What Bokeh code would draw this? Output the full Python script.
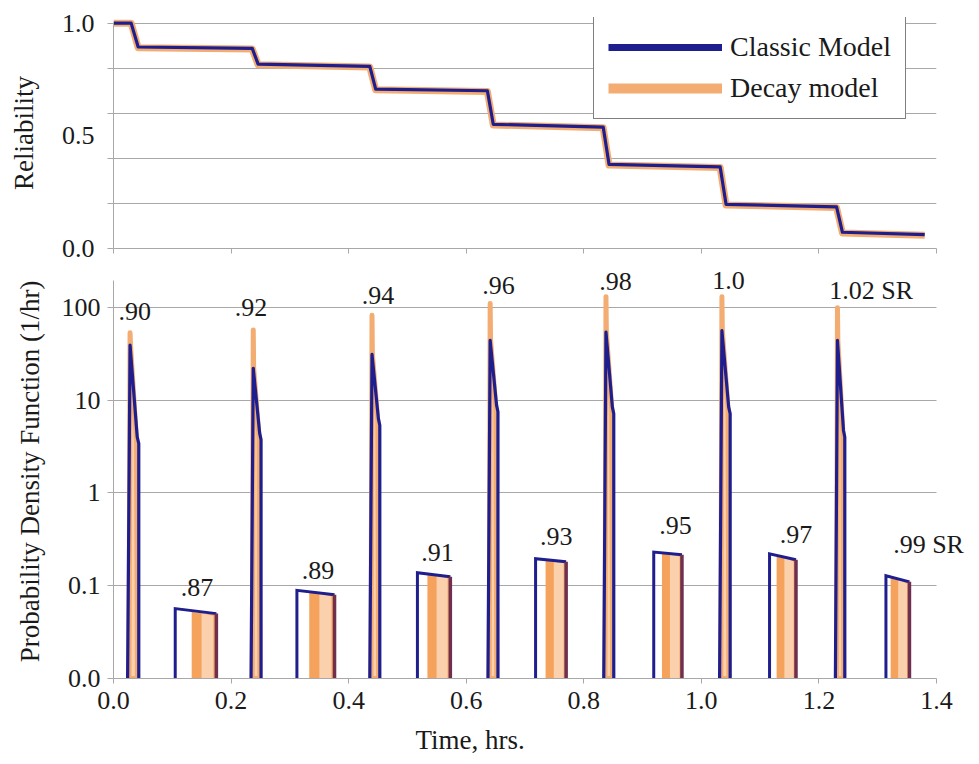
from bokeh.plotting import figure
from bokeh.models import (ColumnDataSource, FixedTicker, Label, Legend, LegendItem,
                          Title, Range1d, PrintfTickFormatter)
from bokeh.layouts import column
from bokeh.embed import file_html
from bokeh.resources import INLINE

FONT = "Liberation Serif"
BLUE = "#1e1e8e"
ORANGE = "#f3ad72"
BAR_ORANGE = "#f5a35c"
PEACH = "#fbd0ac"
EDGE = "#6f3050"
GRID = "#a8a8a8"
TXT = "#1a1a1a"

# ---------------- data: reliability (top panel) ----------------
rel_time = [0.0, 0.030, 0.042, 0.236, 0.246, 0.436, 0.446, 0.636, 0.646,
            0.833, 0.843, 1.032, 1.042, 1.230, 1.240, 1.380]
rel_classic = [1.0, 1.0, 0.894, 0.888, 0.818, 0.808, 0.707, 0.700, 0.551,
               0.539, 0.373, 0.362, 0.196, 0.185, 0.072, 0.062]
rel_decay = [1.0, 1.0, 0.891, 0.885, 0.815, 0.805, 0.704, 0.697, 0.548,
             0.536, 0.370, 0.359, 0.193, 0.182, 0.069, 0.059]

x_ticks = [0.0, 0.2, 0.4, 0.6, 0.8, 1.0, 1.2, 1.4]
rel_labels = [0.0, 0.5, 1.0]
rel_grid = [0.0, 0.2, 0.4, 0.6, 0.8, 1.0]

# ---------------- data: PDF (bottom panel) ----------------
pdf_ticks = [0.01, 0.1, 1, 10, 100]
pdf_tick_text = ["0.0", "0.1", "1", "10", "100"]
PDF_MIN, PDF_MAX = 0.01, 194
BASE = 0.01

# tall spikes (SR >= .90)
spike_start = [0.024, 0.234, 0.436, 0.637, 0.834, 1.031, 1.228]
spike_end = [0.043, 0.251, 0.453, 0.654, 0.851, 1.049, 1.244]
classic_peak = [39, 22, 31, 44, 54, 56, 44]
classic_mid = [4.0, 4.4, 6.3, 8.8, 8.4, 8.4, 4.7]
decay_peak = [53, 57, 82, 110, 130, 130, 99]
decay_mid = [3.6, 4.0, 6.0, 8.0, 8.0, 8.0, 4.4]
spike_lbl = [".90", ".92", ".94", ".96", ".98", "1.0", "1.02 SR"]
spike_lbl_x = [0.036, 0.234, 0.450, 0.655, 0.854, 1.046, 1.289]
spike_lbl_y = [91, 100, 133, 170, 189, 195, 151]

# low plateaus (SR <= .99)
bar_start = [0.105, 0.312, 0.517, 0.718, 0.919, 1.116, 1.314]
bar_end = [0.175, 0.376, 0.573, 0.770, 0.967, 1.161, 1.354]
decay_start = [0.133, 0.333, 0.534, 0.735, 0.933, 1.128, 1.322]
classic_top_start = [0.0566, 0.089, 0.138, 0.195, 0.230, 0.220, 0.128]
classic_top_end = [0.050, 0.080, 0.125, 0.181, 0.215, 0.190, 0.110]
decay_top_start = [0.052, 0.085, 0.131, 0.187, 0.223, 0.206, 0.120]
decay_top_end = [0.049, 0.079, 0.124, 0.180, 0.213, 0.188, 0.108]
bar_lbl = [".87", ".89", ".91", ".93", ".95", ".97", ".99  SR"]
bar_lbl_x = [0.142, 0.348, 0.551, 0.753, 0.956, 1.161, 1.392]
bar_lbl_y = [0.095, 0.145, 0.226, 0.34, 0.44, 0.355, 0.275]


def style_axis(ax, size="26px"):
    ax.axis_line_color = GRID
    ax.axis_line_width = 1
    ax.major_label_text_font = FONT
    ax.major_label_text_font_size = size
    ax.major_label_text_color = TXT
    ax.axis_label_text_font = FONT
    ax.axis_label_text_font_size = "27px"
    ax.axis_label_text_font_style = "normal"
    ax.axis_label_text_color = TXT
    ax.major_tick_line_color = GRID
    ax.minor_tick_line_color = GRID
    ax.major_tick_in = 0
    ax.minor_tick_in = 0
    ax.minor_tick_out = 0


# ================= TOP PANEL =================
top = figure(frame_width=823, frame_height=231,
             x_range=Range1d(0, 1.4), y_range=Range1d(0, 1.025),
             output_backend="svg", toolbar_location=None,
             min_border_left=113, min_border_right=43,
             min_border_top=17, min_border_bottom=16)
top.outline_line_color = None
top.xgrid.visible = False
top.ygrid.ticker = FixedTicker(ticks=rel_grid)
top.ygrid.grid_line_color = GRID

style_axis(top.xaxis[0])
top.xaxis.ticker = FixedTicker(ticks=x_ticks)
top.xaxis.major_tick_out = 5
top.xaxis.major_label_text_font_size = "2px"
top.xaxis.major_label_text_color = None
top.xaxis.major_label_standoff = 0

style_axis(top.yaxis[0])
top.yaxis.ticker = FixedTicker(ticks=rel_labels, minor_ticks=rel_grid)
top.yaxis.bounds = (0, 1)
top.yaxis.formatter = PrintfTickFormatter(format="%.1f")
top.yaxis.major_tick_out = 0
top.yaxis.minor_tick_out = 6
top.yaxis.major_label_standoff = 13
top.yaxis.axis_label = "Reliability"
top.yaxis.axis_label_standoff = 20

rsrc = ColumnDataSource(dict(t=rel_time, c=rel_classic, d=rel_decay))
top.line("t", "d", source=rsrc, line_color=ORANGE, line_width=7, line_join="round")
top.line("t", "c", source=rsrc, line_color=BLUE, line_width=3.2, line_join="round")

# hidden renderers that only give the legend its thicker sample strokes
leg_c = top.line("t", "c", source=rsrc, line_color=BLUE, line_width=7, visible=False)
leg_d = top.line("t", "d", source=rsrc, line_color=ORANGE, line_width=10, visible=False)
legend = Legend(items=[LegendItem(label="Classic Model", renderers=[leg_c]),
                       LegendItem(label="Decay model", renderers=[leg_d])],
                location=(480, 129), orientation="vertical",
                label_text_font=FONT, label_text_font_size="28px", label_text_color=TXT,
                glyph_width=114, glyph_height=28, label_height=28, label_width=160,
                label_standoff=8, spacing=9, padding=14, margin=0,
                border_line_color="black", border_line_width=1,
                background_fill_color="white", background_fill_alpha=1,
                inactive_fill_alpha=0)
top.add_layout(legend)

# ================= BOTTOM PANEL =================
# The frame is a little taller / wider than the axes (axis & grid bounds stop at
# the real data limits) so that value labels above / right of it are not clipped.
bot = figure(frame_width=862, frame_height=414,
             x_range=Range1d(0, 1.4 * 862 / 823), y_range=Range1d(PDF_MIN, 288.6),
             y_axis_type="log",
             output_backend="svg", toolbar_location=None,
             min_border_left=113, min_border_right=4,
             min_border_top=0, min_border_bottom=80)
bot.outline_line_color = None
bot.xgrid.visible = False
bot.ygrid.ticker = FixedTicker(ticks=pdf_ticks[1:])
bot.ygrid.grid_line_color = GRID
bot.ygrid.minor_grid_line_color = None
bot.ygrid.cross_bounds = (0, 1.4)

style_axis(bot.xaxis[0])
bot.xaxis.ticker = FixedTicker(ticks=x_ticks)
bot.xaxis.bounds = (0, 1.4)
bot.xaxis.formatter = PrintfTickFormatter(format="%.1f")
bot.xaxis.major_tick_out = 5
bot.xaxis.major_label_standoff = 8

style_axis(bot.yaxis[0])
bot.yaxis.ticker = FixedTicker(ticks=pdf_ticks)
bot.yaxis.bounds = (PDF_MIN, PDF_MAX)
bot.yaxis.major_label_overrides = {t: s for t, s in zip(pdf_ticks, pdf_tick_text)}
bot.yaxis.major_tick_out = 6
bot.yaxis.major_label_standoff = 7
bot.yaxis.axis_label = "Probability Density Function (1/hr)"
bot.yaxis.axis_label_standoff = 14

# spikes
o_xs, o_ys, b_xs, b_ys = [], [], [], []
for s, e, cp, cm, dp, dm in zip(spike_start, spike_end, classic_peak, classic_mid,
                                decay_peak, decay_mid):
    w = e - s
    o_xs.append([s + 0.12 * w, s + 0.22 * w, s + 0.26 * w, e - 0.2 * w, e - 0.12 * w])
    o_ys.append([BASE, dp, cp, dm, BASE])
    b_xs.append([s, s + 0.22 * w, e - 0.14 * w, e, e])
    b_ys.append([BASE, cp, cm, cm * 0.85, BASE])

bot.patches(o_xs, o_ys, fill_color=PEACH, line_color=ORANGE, line_width=5,
            line_join="round", line_cap="round")
bot.multi_line(b_xs, b_ys, line_color=BLUE, line_width=3.2, line_join="round")

# plateaus
po_xs, po_ys, ps_xs, ps_ys, bl_xs, bl_ys, ed_xs, ed_ys = [], [], [], [], [], [], [], []
for s, e, ds, cts, cte, dts, dte in zip(bar_start, bar_end, decay_start,
                                        classic_top_start, classic_top_end,
                                        decay_top_start, decay_top_end):
    dw = e - ds
    po_xs.append([ds, ds, e, e])
    po_ys.append([BASE, dts, dte, BASE])
    m0, m1 = ds + 0.4 * dw, e - 0.12 * dw
    ps_xs.append([m0, m0, m1, m1])
    ps_ys.append([BASE, dts * 0.97, dte * 0.97, BASE])
    bl_xs.append([s, s, e])
    bl_ys.append([BASE, cts, cte])
    ed_xs.append([e, e])
    ed_ys.append([cte, BASE])

bot.patches(po_xs, po_ys, fill_color=BAR_ORANGE, line_color=None)
bot.patches(ps_xs, ps_ys, fill_color=PEACH, line_color=None)
bot.multi_line(bl_xs, bl_ys, line_color=BLUE, line_width=3, line_join="miter")
bot.multi_line(ed_xs, ed_ys, line_color=EDGE, line_width=3.5)

# value labels
for lx, ly, lt in ((spike_lbl_x, spike_lbl_y, spike_lbl), (bar_lbl_x, bar_lbl_y, bar_lbl)):
    for xv, yv, tv in zip(lx, ly, lt):
        bot.add_layout(Label(x=xv, y=yv, text=tv, text_font=FONT,
                             text_font_size="26px", text_color=TXT,
                             text_align="center", text_baseline="middle"))

bot.add_layout(Title(text="Time, hrs.", align="left", offset=302,
                     text_font=FONT, text_font_size="27px",
                     text_font_style="normal", text_color=TXT, standoff=22), "below")

layout = column(top, bot, spacing=0)
open("out.html", "w").write(file_html(layout, INLINE))
